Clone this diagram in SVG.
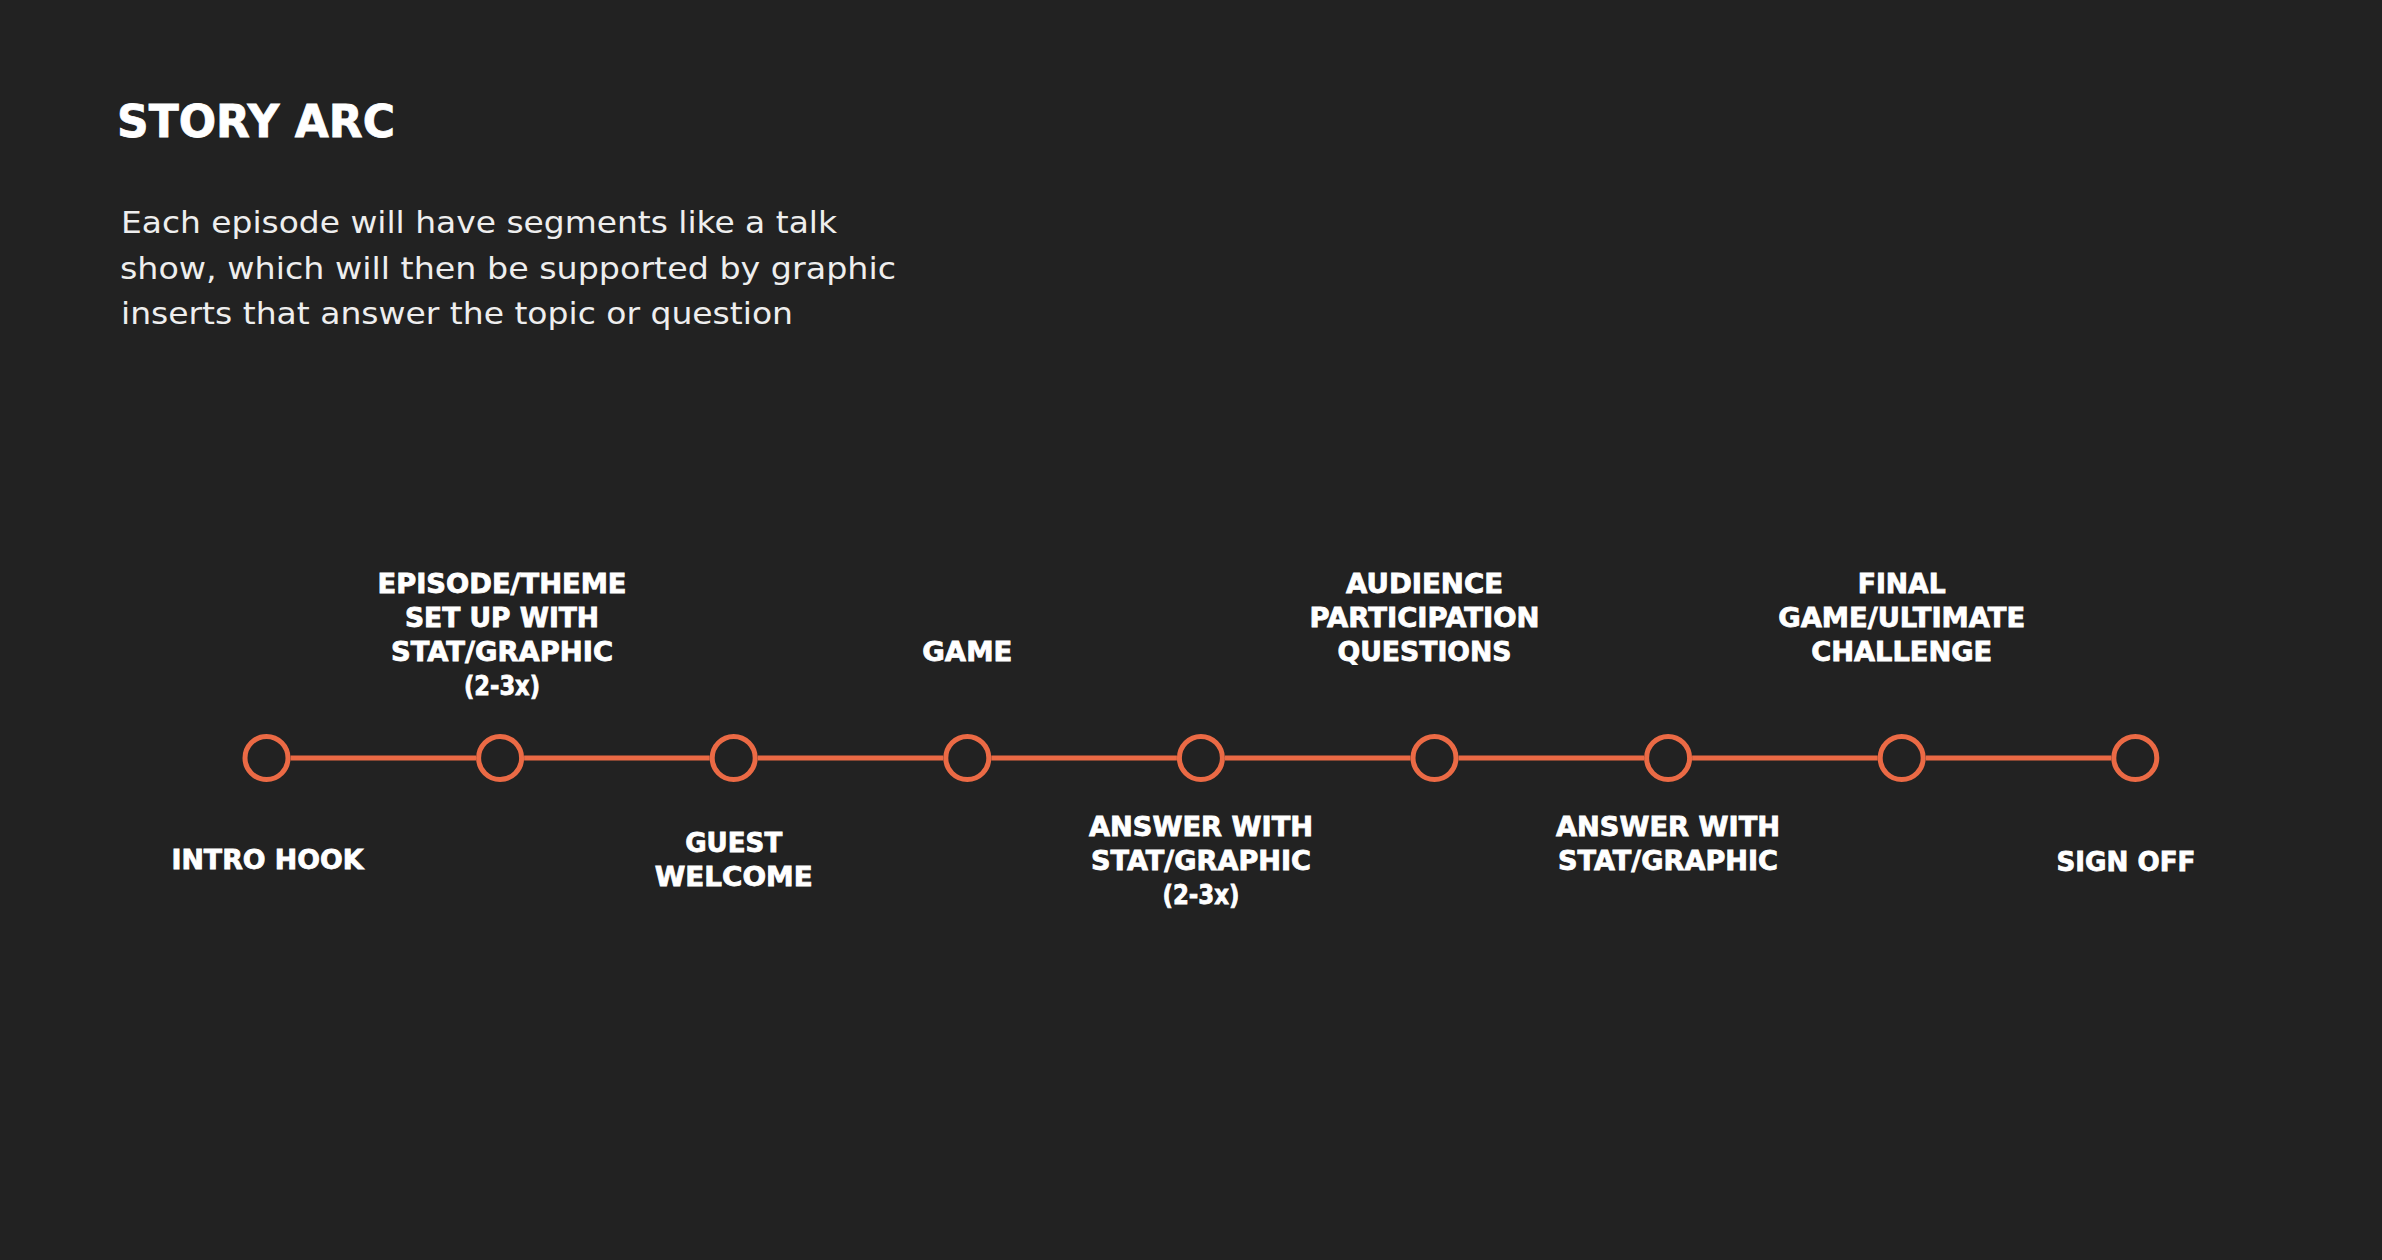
<svg xmlns="http://www.w3.org/2000/svg" width="2382" height="1260" viewBox="0 0 2382 1260">
  <style>
    .title { font-family: "DejaVu Sans", "Liberation Sans", sans-serif; font-weight: bold; font-size: 45px; fill: #ffffff; stroke: #ffffff; stroke-width: 0.8px; }
    .body { font-family: "DejaVu Sans", "Liberation Sans", sans-serif; font-size: 31px; fill: #eeeeee; }
    .lbl { font-family: "DejaVu Sans", "Liberation Sans", sans-serif; font-weight: bold; font-size: 26px; fill: #ffffff; stroke: #ffffff; stroke-width: 0.8px; text-anchor: middle; }
    .dot { fill: #222222; stroke: #EB6A45; stroke-width: 5; }
    .conn { stroke: #EB6A45; stroke-width: 5; fill: none; }
  </style>
  <rect x="0" y="0" width="2382" height="1260" fill="#222222"/>

  <g id="header">
    <text class="title" x="117" y="137" textLength="278" lengthAdjust="spacingAndGlyphs">STORY ARC</text>
    <text class="body" x="121" y="233" textLength="716" lengthAdjust="spacingAndGlyphs">Each episode will have segments like a talk</text>
    <text class="body" x="120" y="279" textLength="776" lengthAdjust="spacingAndGlyphs">show, which will then be supported by graphic</text>
    <text class="body" x="121" y="324" textLength="672" lengthAdjust="spacingAndGlyphs">inserts that answer the topic or question</text>
  </g>

  <g id="connectors">
    <line class="conn" x1="290.5" y1="758" x2="476.1" y2="758"/>
    <line class="conn" x1="524.1" y1="758" x2="709.7" y2="758"/>
    <line class="conn" x1="757.7" y1="758" x2="943.3" y2="758"/>
    <line class="conn" x1="991.3" y1="758" x2="1176.9" y2="758"/>
    <line class="conn" x1="1224.9" y1="758" x2="1410.5" y2="758"/>
    <line class="conn" x1="1458.5" y1="758" x2="1644.1" y2="758"/>
    <line class="conn" x1="1692.1" y1="758" x2="1877.7" y2="758"/>
    <line class="conn" x1="1925.7" y1="758" x2="2111.3" y2="758"/>
  </g>

  <g id="node-intro-hook">
    <circle class="dot" cx="266.5" cy="758" r="21.5"/>
    <text class="lbl" x="267.5" y="869" textLength="192" lengthAdjust="spacingAndGlyphs">INTRO HOOK</text>
  </g>

  <g id="node-episode-theme">
    <circle class="dot" cx="500.1" cy="758" r="21.5"/>
    <text class="lbl" x="502" y="593" textLength="249" lengthAdjust="spacingAndGlyphs">EPISODE/THEME</text>
    <text class="lbl" x="502" y="627" textLength="194" lengthAdjust="spacingAndGlyphs">SET UP WITH</text>
    <text class="lbl" x="502" y="661" textLength="222" lengthAdjust="spacingAndGlyphs">STAT/GRAPHIC</text>
    <text class="lbl" x="502" y="695" textLength="76" lengthAdjust="spacingAndGlyphs">(2-3x)</text>
  </g>

  <g id="node-guest-welcome">
    <circle class="dot" cx="733.7" cy="758" r="21.5"/>
    <text class="lbl" x="733.7" y="852" textLength="97" lengthAdjust="spacingAndGlyphs">GUEST</text>
    <text class="lbl" x="733.7" y="886" textLength="158" lengthAdjust="spacingAndGlyphs">WELCOME</text>
  </g>

  <g id="node-game">
    <circle class="dot" cx="967.3" cy="758" r="21.5"/>
    <text class="lbl" x="967.3" y="661" textLength="90" lengthAdjust="spacingAndGlyphs">GAME</text>
  </g>

  <g id="node-answer-1">
    <circle class="dot" cx="1200.9" cy="758" r="21.5"/>
    <text class="lbl" x="1201" y="836" textLength="224" lengthAdjust="spacingAndGlyphs">ANSWER WITH</text>
    <text class="lbl" x="1201" y="870" textLength="220" lengthAdjust="spacingAndGlyphs">STAT/GRAPHIC</text>
    <text class="lbl" x="1201" y="904" textLength="77" lengthAdjust="spacingAndGlyphs">(2-3x)</text>
  </g>

  <g id="node-audience">
    <circle class="dot" cx="1434.5" cy="758" r="21.5"/>
    <text class="lbl" x="1424.5" y="593" textLength="157" lengthAdjust="spacingAndGlyphs">AUDIENCE</text>
    <text class="lbl" x="1424.5" y="627" textLength="230" lengthAdjust="spacingAndGlyphs">PARTICIPATION</text>
    <text class="lbl" x="1424.5" y="661" textLength="174" lengthAdjust="spacingAndGlyphs">QUESTIONS</text>
  </g>

  <g id="node-answer-2">
    <circle class="dot" cx="1668.1" cy="758" r="21.5"/>
    <text class="lbl" x="1668" y="836" textLength="224" lengthAdjust="spacingAndGlyphs">ANSWER WITH</text>
    <text class="lbl" x="1668" y="870" textLength="220" lengthAdjust="spacingAndGlyphs">STAT/GRAPHIC</text>
  </g>

  <g id="node-final">
    <circle class="dot" cx="1901.7" cy="758" r="21.5"/>
    <text class="lbl" x="1901.7" y="593" textLength="88" lengthAdjust="spacingAndGlyphs">FINAL</text>
    <text class="lbl" x="1901.7" y="627" textLength="247" lengthAdjust="spacingAndGlyphs">GAME/ULTIMATE</text>
    <text class="lbl" x="1901.7" y="661" textLength="181" lengthAdjust="spacingAndGlyphs">CHALLENGE</text>
  </g>

  <g id="node-sign-off">
    <circle class="dot" cx="2135.3" cy="758" r="21.5"/>
    <text class="lbl" x="2126" y="871" textLength="139" lengthAdjust="spacingAndGlyphs">SIGN OFF</text>
  </g>
</svg>
